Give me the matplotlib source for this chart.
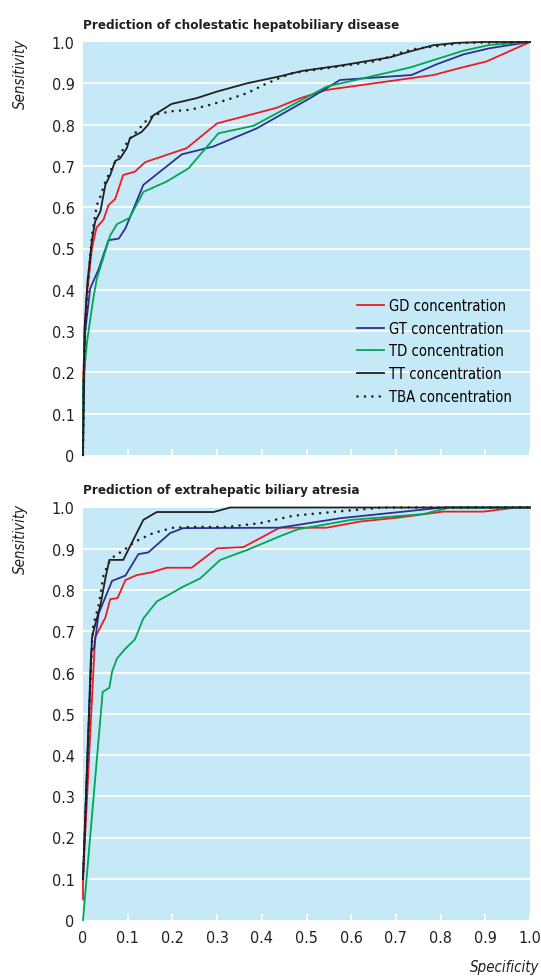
import matplotlib
matplotlib.use("Agg")
import matplotlib.pyplot as plt
from matplotlib import font_manager
from matplotlib.font_manager import FontProperties

BG = "#c6e9f8"
RED = "#ed1c24"
BLUE = "#2e3192"
GREEN = "#00a651"
BLACK = "#231f20"

labels = ["GD concentration", "GT concentration", "TD concentration",
          "TT concentration", "TBA concentration"]
ticks = [0, 0.1, 0.2, 0.3, 0.4, 0.5, 0.6, 0.7, 0.8, 0.9, 1.0]
tick_labels = ["0", "0.1", "0.2", "0.3", "0.4", "0.5", "0.6", "0.7", "0.8", "0.9", "1.0"]

# --- panel 1: cholestatic hepatobiliary disease ---
top_gd_x = [0, 0, 0.008, 0.02, 0.03, 0.046, 0.057, 0.072, 0.09, 0.116, 0.139, 0.232, 0.30,
            0.389, 0.434, 0.486, 0.545, 0.724, 0.784, 0.836, 0.903, 1.0]
top_gd_y = [0, 0.18, 0.38, 0.50, 0.55, 0.57, 0.605, 0.62, 0.678, 0.686, 0.709, 0.743, 0.803,
            0.828, 0.841, 0.864, 0.884, 0.911, 0.92, 0.935, 0.953, 1.0]
top_gt_x = [0, 0.003, 0.005, 0.016, 0.035, 0.057, 0.08, 0.095, 0.135, 0.221, 0.292, 0.389,
            0.508, 0.575, 0.735, 0.791, 0.851, 0.91, 1.0]
top_gt_y = [0, 0.2, 0.30, 0.403, 0.45, 0.52, 0.524, 0.549, 0.654, 0.728, 0.747, 0.791,
            0.864, 0.908, 0.92, 0.946, 0.97, 0.985, 1.0]
top_td_x = [0, 0, 0.009, 0.023, 0.031, 0.061, 0.076, 0.104, 0.135, 0.187, 0.236, 0.303, 0.381,
            0.545, 0.731, 0.851, 0.91, 1.0]
top_td_y = [0, 0.17, 0.274, 0.379, 0.427, 0.532, 0.559, 0.574, 0.637, 0.662, 0.694, 0.779, 0.797,
            0.892, 0.938, 0.979, 0.993, 1.0]
top_tt_x = [0, 0.003, 0.01, 0.02, 0.027, 0.039, 0.05, 0.061, 0.072, 0.083, 0.098, 0.105, 0.131,
            0.146, 0.157, 0.198, 0.254, 0.30, 0.367, 0.441, 0.49, 0.576, 0.687, 0.731, 0.783,
            0.836, 0.895, 1.0]
top_tt_y = [0, 0.30, 0.42, 0.52, 0.565, 0.59, 0.654, 0.678, 0.712, 0.718, 0.743, 0.767, 0.782,
            0.80, 0.822, 0.85, 0.864, 0.88, 0.90, 0.917, 0.93, 0.943, 0.963, 0.977, 0.992,
            0.998, 1.0, 1.0]
top_tba_x = [0, 0.002, 0.005, 0.012, 0.02, 0.027, 0.031, 0.039, 0.05, 0.061, 0.072, 0.087,
             0.102, 0.12, 0.146, 0.165, 0.195, 0.24, 0.285, 0.322, 0.367, 0.404, 0.44, 0.47,
             0.568, 0.657, 0.716, 0.747, 0.792, 0.85, 1.0]
top_tba_y = [0, 0.2, 0.306, 0.427, 0.532, 0.58, 0.605, 0.626, 0.662, 0.687, 0.71, 0.735,
             0.763, 0.783, 0.815, 0.825, 0.832, 0.836, 0.848, 0.86, 0.876, 0.896, 0.913, 0.925,
             0.94, 0.954, 0.976, 0.984, 0.99, 0.998, 1.0]

# --- panel 2: extrahepatic biliary atresia ---
bot_gd_x = [0, 0, 0.027, 0.05, 0.061, 0.077, 0.095, 0.12, 0.154, 0.187, 0.243, 0.30, 0.359,
            0.44, 0.545, 0.62, 0.709, 0.806, 0.896, 0.97, 1.0]
bot_gd_y = [0.05, 0.10, 0.685, 0.733, 0.778, 0.78, 0.824, 0.836, 0.843, 0.854, 0.854, 0.901,
            0.904, 0.951, 0.951, 0.966, 0.976, 0.99, 0.99, 1.0, 1.0]
bot_gt_x = [0, 0.018, 0.025, 0.035, 0.065, 0.095, 0.124, 0.146, 0.195, 0.224, 0.44, 0.575,
            0.806, 1.0]
bot_gt_y = [0.10, 0.65, 0.66, 0.743, 0.822, 0.835, 0.887, 0.891, 0.938, 0.95, 0.951, 0.974,
            1.0, 1.0]
bot_td_x = [0, 0.044, 0.059, 0.065, 0.076, 0.095, 0.116, 0.135, 0.165, 0.224, 0.262, 0.307,
            0.367, 0.44, 0.48, 0.6, 0.761, 0.821, 1.0]
bot_td_y = [0.0, 0.553, 0.563, 0.602, 0.634, 0.658, 0.68, 0.731, 0.772, 0.808, 0.828, 0.873,
            0.897, 0.93, 0.947, 0.97, 0.984, 1.0, 1.0]
bot_tt_x = [0, 0.02, 0.023, 0.039, 0.05, 0.059, 0.09, 0.135, 0.165, 0.292, 0.329, 1.0]
bot_tt_y = [0.10, 0.683, 0.699, 0.763, 0.828, 0.873, 0.873, 0.97, 0.989, 0.989, 1.0, 1.0]
bot_tba_x = [0, 0.02, 0.023, 0.035, 0.046, 0.057, 0.072, 0.087, 0.116, 0.157, 0.202, 0.247,
             0.322, 0.396, 0.47, 0.567, 0.672, 1.0]
bot_tba_y = [0.10, 0.67, 0.715, 0.763, 0.836, 0.865, 0.885, 0.893, 0.917, 0.938, 0.951,
             0.953, 0.953, 0.962, 0.98, 0.99, 1.0, 1.0]


# look for a narrow / condensed face, the original uses a condensed sans
def _wnum(w):
    if isinstance(w, int):
        return w
    return {"bold": 700, "normal": 400, "regular": 400, "book": 400}.get(str(w).lower(), 400)


def pick(size, weight=400, style="normal"):
    cands = [f for f in font_manager.fontManager.ttflist
             if f.stretch in ("condensed", "semi-condensed") or "Narrow" in f.name
             or "Condensed" in f.name]
    best = None
    for f in cands:
        score = 0
        if "Liberation" in f.name:
            score -= 5
        score += abs(_wnum(f.weight) - weight) / 100
        score += 0 if (f.style == "normal") == (style == "normal") else 10
        if best is None or score < best[0]:
            best = (score, f)
    if best is None:
        return FontProperties(family="DejaVu Sans", size=size * 0.85, weight=weight, style=style)
    return FontProperties(fname=best[1].fname, size=size)


fp_tick = pick(11.5)
fp_leg = pick(10.6)
fp_title = pick(9.6, 700)
fp_lab = pick(10.8, 400, "italic")

W, H = 541, 978
fig = plt.figure(figsize=(W / 100, H / 100), dpi=100)
L, R = 83 / W, 530 / W
ax1 = fig.add_axes([L, 1 - 456 / H, R - L, (456 - 43) / H])
ax2 = fig.add_axes([L, 1 - 921 / H, R - L, (921 - 508.5) / H])


def style_ax(ax, show_x):
    ax.set_facecolor(BG)
    for s in ax.spines.values():
        s.set_visible(False)
    ax.set_xlim(0, 1)
    ax.set_ylim(0, 1)
    ax.set_yticks(ticks)
    ax.set_yticklabels(tick_labels, fontproperties=fp_tick, color=BLACK)
    ax.set_xticks(ticks)
    if show_x:
        ax.set_xticklabels(tick_labels, fontproperties=fp_tick, color=BLACK)
    else:
        ax.set_xticklabels([])
    for t in ticks[1:-1]:
        ax.axhline(t, color="white", lw=1.3, zorder=1)
    ax.tick_params(axis="y", length=0, pad=6)
    ax.tick_params(axis="x", direction="in", length=4, width=1.3, color="white", pad=7)
    ax.xaxis.get_major_ticks()[0].tick1line.set_visible(False)


def draw(ax, series):
    lines = []
    for (x, y), c, ls in zip(series, [RED, BLUE, GREEN, BLACK, BLACK],
                             ["-", "-", "-", "-", (0, (0.01, 2.8))]):
        if ls == "-":
            ln, = ax.plot(x, y, color=c, lw=1.3, zorder=3, clip_on=False)
        else:
            ln, = ax.plot(x, y, color=c, lw=1.9, ls=ls, dash_capstyle="round",
                          zorder=4, clip_on=False)
        lines.append(ln)
    return lines


style_ax(ax1, False)
style_ax(ax2, True)

top = [(top_gd_x, top_gd_y), (top_gt_x, top_gt_y), (top_td_x, top_td_y),
       (top_tt_x, top_tt_y), (top_tba_x, top_tba_y)]
bot = [(bot_gd_x, bot_gd_y), (bot_gt_x, bot_gt_y), (bot_td_x, bot_td_y),
       (bot_tt_x, bot_tt_y), (bot_tba_x, bot_tba_y)]
handles = draw(ax1, top)
draw(ax2, bot)

ax1.legend(handles, labels, loc="upper left", bbox_to_anchor=(0.613, 0.38),
           frameon=False, prop=fp_leg, handlelength=1.8, handletextpad=0.34,
           labelspacing=0.52, borderpad=0, borderaxespad=0)

fig.text(L, 1 - 26 / H, "Prediction of cholestatic hepatobiliary disease",
         ha="left", va="center", fontproperties=fp_title, color=BLACK)
fig.text(L, 1 - 491 / H, "Prediction of extrahepatic biliary atresia",
         ha="left", va="center", fontproperties=fp_title, color=BLACK)
fig.text(20 / W, 1 - 74 / H, "Sensitivity", rotation=90, ha="center", va="center",
         fontproperties=fp_lab, color=BLACK)
fig.text(20 / W, 1 - 539 / H, "Sensitivity", rotation=90, ha="center", va="center",
         fontproperties=fp_lab, color=BLACK)
fig.text(539 / W, 1 - 968 / H, "Specificity", ha="right", va="center",
         fontproperties=fp_lab, color=BLACK)

fig.savefig("out.png", dpi=100, facecolor="white")
